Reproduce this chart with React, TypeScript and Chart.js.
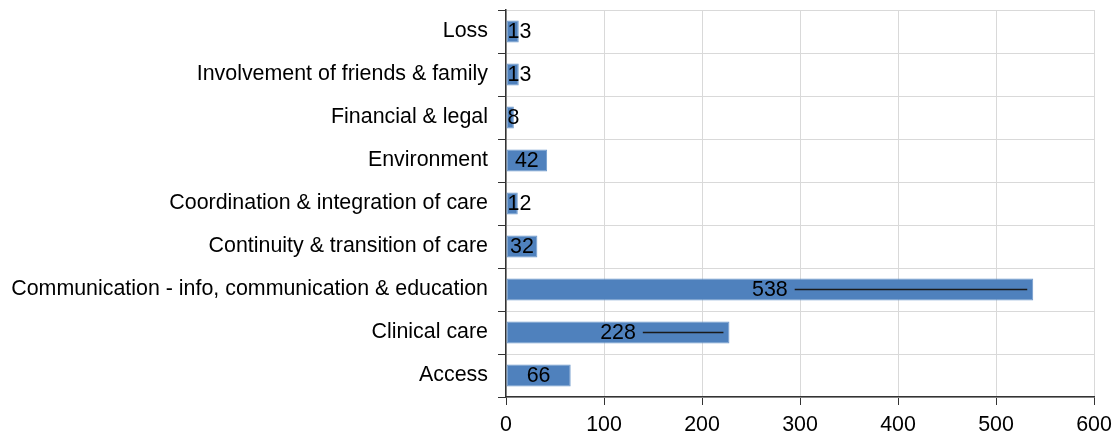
import React, { useEffect, useRef } from "react";
import { Chart, registerables } from "chart.js";

Chart.register(...registerables);

// Categories listed top to bottom
const categories: string[] = [
  "Loss",
  "Involvement of friends & family",
  "Financial & legal",
  "Environment",
  "Coordination & integration of care",
  "Continuity & transition of care",
  "Communication - info, communication & education",
  "Clinical care",
  "Access",
];

const counts: number[] = [13, 13, 8, 42, 12, 32, 538, 228, 66];

const xTicks: number[] = [0, 100, 200, 300, 400, 500, 600];

const FONT = "'Liberation Sans', Arial, sans-serif";
const FONT_SIZE = 21.4;

// Value labels centred in each bar; long bars get a leader line to the bar end
const valueLabels = {
  id: "valueLabels",
  afterDatasetsDraw(chart: any) {
    const ctx = chart.ctx;
    const meta = chart.getDatasetMeta(0);
    const data = chart.data.datasets[0].data as number[];
    ctx.save();
    ctx.font = `${FONT_SIZE}px ${FONT}`;
    ctx.fillStyle = "#000";
    ctx.textBaseline = "middle";
    ctx.textAlign = "left";
    meta.data.forEach((bar: any, i: number) => {
      const text = String(data[i]);
      const w = ctx.measureText(text).width;
      const base = bar.base;
      const end = bar.x;
      const cx = (base + end) / 2;
      const left = Math.max(cx - w / 2, base + 1);
      ctx.fillText(text, left, bar.y + 1);
      if (end - base > 150) {
        ctx.beginPath();
        ctx.strokeStyle = "#1a1a1a";
        ctx.lineWidth = 1.6;
        ctx.moveTo(left + w + 7, bar.y);
        ctx.lineTo(end - 6, bar.y);
        ctx.stroke();
      }
    });
    ctx.restore();
  },
};

export default function App() {
  const ref = useRef<HTMLCanvasElement | null>(null);

  useEffect(() => {
    if (!ref.current) return;
    const chart = new Chart(ref.current, {
      type: "bar",
      data: {
        labels: categories,
        datasets: [
          {
            data: counts,
            backgroundColor: "#4F81BD",
            borderColor: "#6D98CB",
            borderWidth: 1,
            borderSkipped: false,
            barPercentage: 0.51,
            categoryPercentage: 1,
          },
        ],
      },
      options: {
        indexAxis: "y",
        responsive: false,
        animation: false,
        devicePixelRatio: 1,
        layout: { padding: { top: 10, right: 18, left: 0, bottom: 0 } },
        plugins: {
          legend: { display: false },
          tooltip: { enabled: false },
        },
        scales: {
          x: {
            min: 0,
            max: 600,
            afterBuildTicks: (s: any) => {
              s.ticks = xTicks.map((v) => ({ value: v }));
            },
            afterFit: (s: any) => {
              s.height = 38;
              s.paddingLeft = 0;
              s.paddingRight = 0;
            },
            grid: {
              color: "#D9D9D9",
              lineWidth: 1,
              tickColor: "#333",
              tickLength: 8,
              drawTicks: true,
            },
            border: { color: "#333", width: 1.5 },
            ticks: {
              color: "#000",
              padding: 7,
              font: { family: FONT, size: FONT_SIZE },
            },
          },
          y: {
            offset: true,
            afterFit: (s: any) => {
              s.width = 506;
              s.paddingTop = 0;
              s.paddingBottom = 0;
            },
            grid: {
              offset: true,
              color: "#D9D9D9",
              lineWidth: 1,
              tickColor: "#333",
              tickLength: 8,
            },
            border: { color: "#333", width: 1.5 },
            ticks: {
              color: "#000",
              padding: 10,
              font: { family: FONT, size: FONT_SIZE },
            },
          },
        },
      },
      plugins: [valueLabels],
    });
    return () => chart.destroy();
  }, []);

  return (
    <div style={{ position: "absolute", left: 0, top: 0, width: 1112, height: 435, background: "#fff" }}>
      <canvas ref={ref} width={1112} height={435} />
    </div>
  );
}
